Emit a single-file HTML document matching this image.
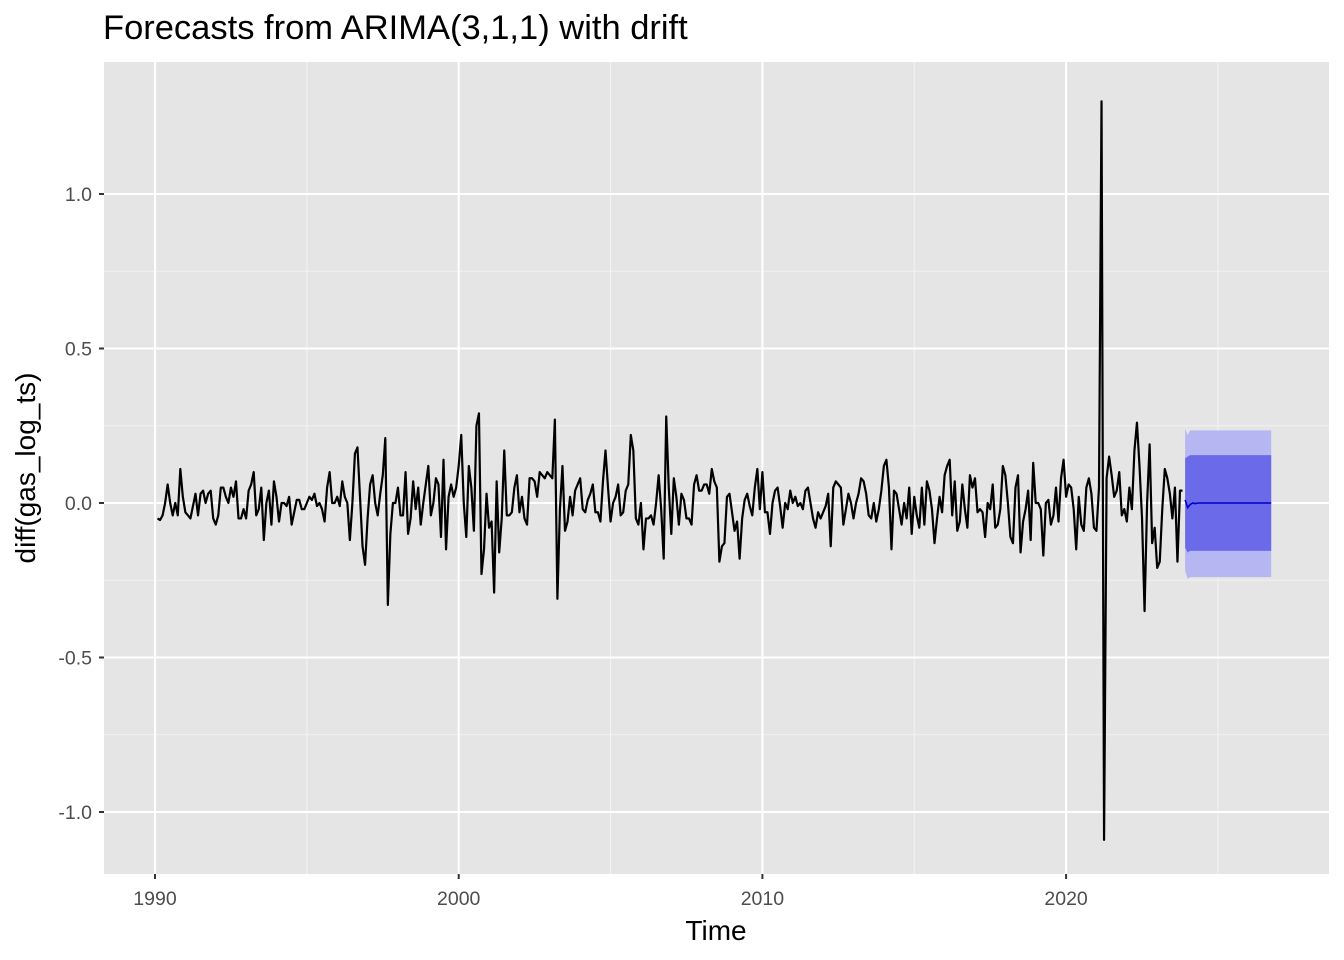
<!DOCTYPE html>
<html><head><meta charset="utf-8">
<style>
html,body{margin:0;padding:0;background:#fff;}
svg{display:block;font-family:"Liberation Sans",Arial,sans-serif;}
</style></head>
<body>
<svg id="chart" width="1344" height="960"></svg>
<script>
const startYear = 1990 + 1/12;
const seriesValues = [
-0.05,-0.055,-0.04,0.0,0.06,0.0,-0.04,0.0,-0.04,0.11,0.02,-0.03,
-0.04,-0.05,-0.01,0.03,-0.04,0.03,0.04,0.0,0.03,0.04,-0.05,-0.07,
-0.04,0.05,0.05,0.02,0.0,0.05,0.02,0.07,-0.05,-0.05,-0.02,-0.05,
0.04,0.06,0.1,-0.04,-0.02,0.05,-0.12,0.0,0.04,-0.07,0.07,0.02,
-0.06,0.0,0.0,-0.01,0.02,-0.07,-0.03,0.01,0.01,-0.02,-0.02,0.0,
0.02,0.01,0.03,-0.01,0.0,-0.02,-0.06,0.05,0.1,0.0,0.0,0.02,
-0.01,0.07,0.02,0.0,-0.12,0.0,0.16,0.18,0.02,-0.14,-0.2,-0.05,
0.06,0.09,0.0,-0.04,0.03,0.09,0.21,-0.33,-0.1,0.0,0.0,0.05,
-0.04,-0.04,0.1,-0.1,-0.05,0.07,-0.02,0.05,-0.07,0.0,0.06,0.12,
-0.04,0.0,0.08,0.06,-0.11,0.14,-0.15,0.02,0.06,0.02,0.05,0.12,
0.22,0.0,-0.11,0.12,0.05,-0.09,0.25,0.29,-0.23,-0.15,0.03,-0.08,
-0.06,-0.29,0.07,-0.16,-0.05,0.17,-0.04,-0.04,-0.03,0.05,0.09,-0.03,
0.02,-0.05,-0.07,0.08,0.08,0.07,0.02,0.1,0.09,0.08,0.1,0.09,
0.08,0.27,-0.31,-0.02,0.12,-0.09,-0.06,0.02,-0.04,0.04,0.06,0.08,
-0.02,-0.03,0.01,0.03,0.06,-0.03,-0.03,-0.06,0.07,0.17,0.05,-0.06,
0.0,0.02,0.06,-0.04,-0.03,0.04,0.06,0.22,0.17,-0.05,-0.07,0.0,
-0.15,-0.05,-0.05,-0.04,-0.07,0.0,0.09,-0.02,-0.18,0.28,0.05,-0.1,
0.08,0.02,-0.07,0.03,0.01,-0.05,-0.05,-0.07,0.06,0.09,0.04,0.04,
0.06,0.06,0.03,0.11,0.07,0.05,-0.19,-0.14,-0.13,0.02,0.03,-0.03,
-0.09,-0.06,-0.18,-0.05,0.01,0.03,-0.01,-0.04,0.05,0.11,-0.02,0.1,
-0.03,-0.03,-0.1,0.0,0.04,0.05,-0.01,-0.08,0.0,-0.02,0.04,0.0,
0.02,-0.01,0.0,-0.02,0.04,0.05,0.0,-0.05,-0.08,-0.03,-0.05,-0.03,
-0.01,0.03,-0.14,0.05,0.07,0.06,0.05,-0.07,-0.02,0.03,0.0,-0.05,
0.0,0.03,0.08,0.07,0.03,-0.04,-0.05,0.0,-0.06,-0.02,0.04,0.12,
0.14,0.05,-0.15,0.04,0.03,-0.02,-0.07,0.0,-0.05,0.05,-0.1,0.02,
-0.04,-0.08,0.05,-0.07,0.07,0.04,-0.02,-0.13,-0.05,0.02,-0.03,0.09,
0.12,0.14,-0.04,0.07,-0.09,-0.06,0.06,-0.02,-0.08,0.09,0.05,0.08,
-0.03,-0.02,-0.03,-0.11,0.0,-0.02,0.06,-0.08,-0.07,-0.02,0.12,0.09,
0.0,-0.11,-0.13,0.05,0.09,-0.16,-0.06,-0.02,0.04,-0.12,0.13,0.0,
0.0,-0.02,-0.17,0.0,0.01,-0.07,-0.04,0.05,-0.06,0.08,0.14,0.02,
0.06,0.05,-0.02,-0.15,0.02,-0.07,-0.09,0.05,0.08,0.03,-0.08,-0.09,
0.05,1.3,-1.09,0.08,0.15,0.09,0.02,0.04,0.1,-0.04,-0.02,-0.06,
0.05,-0.02,0.17,0.26,0.12,-0.05,-0.35,0.0,0.19,-0.13,-0.08,-0.21,
-0.19,-0.02,0.11,0.08,0.03,-0.05,0.05,-0.19,0.04,0.04
];
const fcStart = 2023.92;
const fcMean = [0.01,-0.015,-0.005,0.0,-0.002,0.0,0,0,0,0,0,0,0,0,0,0,0,0,0,0,0,0,0,0,0,0,0,0,0,0,0,0,0,0,0];
const fcLo80 = [-0.145,-0.16,-0.155,-0.155,-0.155,-0.155,-0.155,-0.155,-0.155,-0.155,-0.155,-0.155,-0.155,-0.155,-0.155,-0.155,-0.155,-0.155,-0.155,-0.155,-0.155,-0.155,-0.155,-0.155,-0.155,-0.155,-0.155,-0.155,-0.155,-0.155,-0.155,-0.155,-0.155,-0.155,-0.155];
const fcHi80 = [0.145,0.15,0.155,0.155,0.155,0.155,0.155,0.155,0.155,0.155,0.155,0.155,0.155,0.155,0.155,0.155,0.155,0.155,0.155,0.155,0.155,0.155,0.155,0.155,0.155,0.155,0.155,0.155,0.155,0.155,0.155,0.155,0.155,0.155,0.155];
const fcLo95 = [-0.22,-0.245,-0.24,-0.24,-0.24,-0.24,-0.24,-0.24,-0.24,-0.24,-0.24,-0.24,-0.24,-0.24,-0.24,-0.24,-0.24,-0.24,-0.24,-0.24,-0.24,-0.24,-0.24,-0.24,-0.24,-0.24,-0.24,-0.24,-0.24,-0.24,-0.24,-0.24,-0.24,-0.24,-0.24];
const fcHi95 = [0.24,0.22,0.235,0.235,0.235,0.235,0.235,0.235,0.235,0.235,0.235,0.235,0.235,0.235,0.235,0.235,0.235,0.235,0.235,0.235,0.235,0.235,0.235,0.235,0.235,0.235,0.235,0.235,0.235,0.235,0.235,0.235,0.235,0.235,0.235];
const xTicks = [1990,2000,2010,2020];
const xMinor = [1995,2005,2015,2025];
const yTicks = [-1.0,-0.5,0.0,0.5,1.0];
const yTickLabels = ["-1.0","-0.5","0.0","0.5","1.0"];
const yMinor = [-0.75,-0.25,0.25,0.75];

const NS="http://www.w3.org/2000/svg";
const svg=document.getElementById('chart');
const P={l:104,r:1329,t:62,b:874};
const X=yr=>155+(yr-1990)*30.37;
const Y=v=>503-v*309;
function mk(tag,attrs,parent){const e=document.createElementNS(NS,tag);for(const k in attrs)e.setAttribute(k,attrs[k]);(parent||svg).appendChild(e);return e;}

const bg=mk('rect',{x:P.l,y:P.t,width:P.r-P.l,height:P.b-P.t,fill:'#e5e5e5'});


xMinor.forEach(v=>{const l=mk('line',{x1:X(v),x2:X(v),y1:P.t,y2:P.b,stroke:'#f2f2f2','stroke-width':1.1});

});
yMinor.forEach(v=>{const l=mk('line',{x1:P.l,x2:P.r,y1:Y(v),y2:Y(v),stroke:'#f2f2f2','stroke-width':1.1});

});
xTicks.forEach(v=>{const l=mk('line',{x1:X(v),x2:X(v),y1:P.t,y2:P.b,stroke:'#fff','stroke-width':2.1});


const tk=mk('line',{x1:X(v),x2:X(v),y1:P.b,y2:P.b+5,stroke:'#333','stroke-width':2});


const t=mk('text',{x:X(v),y:P.b+31,'text-anchor':'middle','font-size':19.5,fill:'#4d4d4d'});t.textContent=v;

});
yTicks.forEach((v,i)=>{const l=mk('line',{x1:P.l,x2:P.r,y1:Y(v),y2:Y(v),stroke:'#fff','stroke-width':2.1});


const tk=mk('line',{x1:P.l-5,x2:P.l,y1:Y(v),y2:Y(v),stroke:'#333','stroke-width':2});


const t=mk('text',{x:P.l-12,y:Y(v)+7,'text-anchor':'end','font-size':19.5,fill:'#4d4d4d'});t.textContent=yTickLabels[i];

});

const fx=i=>X(fcStart+i/12);
function band(lo,hi,color,name){let d='';hi.forEach((v,i)=>{d+=(i?'L':'M')+fx(i)+','+Y(v);});for(let i=lo.length-1;i>=0;i--)d+='L'+fx(i)+','+Y(lo[i]);d+='Z';
const p=mk('path',{d:d,fill:color});

}
band(fcLo95,fcHi95,'#b6b6f3','prediction-interval-95');
band(fcLo80,fcHi80,'#6b6bea','prediction-interval-80');

let d='';seriesValues.forEach((v,i)=>{d+=(i?'L':'M')+X(startYear+i/12).toFixed(2)+','+Y(v).toFixed(2);});
const line=mk('path',{d:d,fill:'none',stroke:'#000','stroke-width':2.2,'stroke-linejoin':'round'});


let dm='';fcMean.forEach((v,i)=>{dm+=(i?'L':'M')+fx(i)+','+Y(v);});
const ml=mk('path',{d:dm,fill:'none',stroke:'#0000cc','stroke-width':1.6});



const title=mk('text',{x:103,y:39,'font-size':34.5,fill:'#000'});title.textContent='Forecasts from ARIMA(3,1,1) with drift';


const xl=mk('text',{x:716,y:940,'text-anchor':'middle','font-size':28,fill:'#000'});xl.textContent='Time';


const yl=mk('text',{x:0,y:0,'text-anchor':'middle','font-size':28,fill:'#000',transform:'translate(35,468) rotate(-90)'});yl.textContent='diff(gas_log_ts)';


</script>
</body></html>
